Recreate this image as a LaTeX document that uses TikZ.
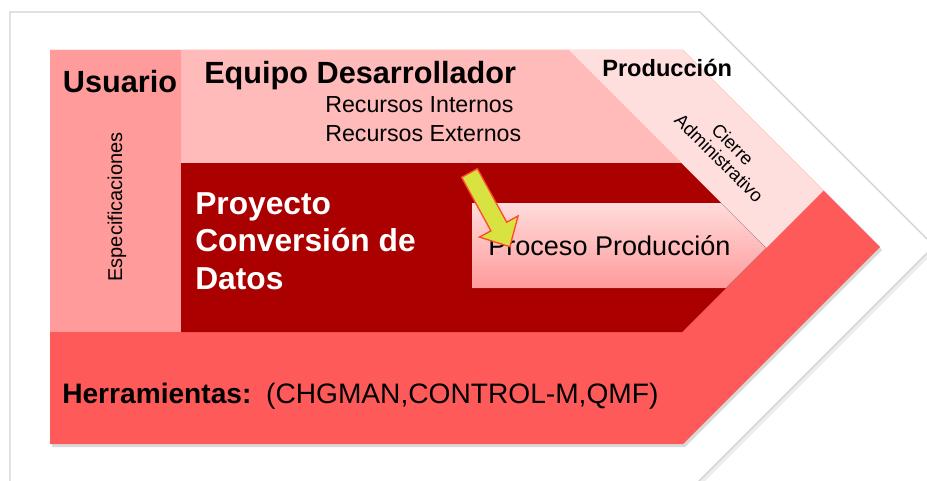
\documentclass[tikz,border=0pt]{standalone}
\usepackage{fontspec}
\setmainfont{Liberation Sans}

\definecolor{usuariocol}{HTML}{FF9B9B}
\definecolor{equipocol}{HTML}{FFBABA}
\definecolor{produccol}{HTML}{FFDEDE}
\definecolor{proyectocol}{HTML}{AA0000}
\definecolor{herramcol}{HTML}{FF5A5A}
\definecolor{procesotop}{HTML}{FFDCDC}
\definecolor{procesobot}{HTML}{FF9A9A}
\definecolor{flechacol}{HTML}{D8E341}
\definecolor{flechaborde}{HTML}{FF4A2A}

\begin{document}
\begin{tikzpicture}[x=0.75pt, y=-0.75pt,
    txt/.style={inner sep=0pt, text=black},
    titulo/.style={txt, font=\fontsize{23pt}{27pt}\selectfont\bfseries},
    recurso/.style={txt, font=\fontsize{17.4pt}{20pt}\selectfont},
    chico/.style={txt, font=\fontsize{13.9pt}{14.5pt}\selectfont},
    blanco/.style={inner sep=0pt, text=white, font=\fontsize{23.8pt}{28.1pt}\selectfont\bfseries}]

    % Frame

    \useasboundingbox (0,0) rectangle (927,481);
    \clip (0,0) rectangle (927,481);
    \fill[black!7] (13,15) -- (703,15) -- (937,249) -- (693,493) -- (13,493) -- cycle;
    \filldraw[fill=white, draw=black!18, line width=1] (10,12) -- (700,12) -- (934,246) -- (690,490) -- (10,490) -- cycle;

    % Chevrons

    \fill[black!15] (52,53) -- (685,53) -- (882,250) -- (685,447) -- (52,447) -- cycle;
    \fill[herramcol] (50,50) -- (683,50) -- (880,247) -- (683,444) -- (50,444) -- cycle;
    \fill[produccol] (568,50) -- (683,50) -- (823.5,190.5) -- (766,248) -- (681,163) -- cycle;
    \fill[usuariocol] (50,50) rectangle (181,332);
    \fill[equipocol] (181,50) -- (568,50) -- (681,163) -- (181,163) -- cycle;
    \fill[proyectocol] (181,163) -- (681,163) -- (766,248) -- (682,332) -- (181,332) -- cycle;
    \fill[top color=procesotop, bottom color=procesobot] (472,203) -- (721,203) -- (766,248) -- (726,288) -- (472,288) -- cycle;

    % Labels

    \node[titulo, anchor=base] (usuario) at (120,93) {Usuario};
    \node[titulo, anchor=base west] (equipo) at (204,84) {Equipo Desarrollador};
    \node[recurso, anchor=base west] (internos) at (325,113) {Recursos Internos};
    \node[recurso, anchor=base west] (externos) at (325,142) {Recursos Externos};
    \node[txt, anchor=base west, font=\fontsize{17.7pt}{20pt}\selectfont\bfseries] (produccion) at (602,77) {Producción};
    \node[chico, rotate=-45, align=center] (cierre) at (726,151) {Cierre\\Administrativo};
    \node[txt, rotate=90, font=\fontsize{15pt}{18pt}\selectfont] (especif) at (117,207) {Especificaciones};
    \node[blanco, anchor=west, align=left] (proyecto) at (195,241) {Proyecto\\Conversión de\\Datos};
    \node[txt, anchor=base west, font=\fontsize{20.3pt}{24pt}\selectfont] (proceso) at (488,255) {Proceso Producción};
    \node[txt, anchor=base west, font=\fontsize{21.1pt}{24pt}\selectfont] (herram) at (62,403) {\textbf{Herramientas:}\hspace{11pt}(CHGMAN,CONTROL-M,QMF)};

    % Arrow

    \begin{scope}[shift={(469.5,173)}, rotate=-61.3]
        \filldraw[fill=flechacol, draw=flechaborde, line width=1] (0,-9) -- (61,-9) -- (61,-22) -- (84,0) -- (61,22) -- (61,9) -- (0,9) -- cycle;
    \end{scope}

\end{tikzpicture}
\end{document}
